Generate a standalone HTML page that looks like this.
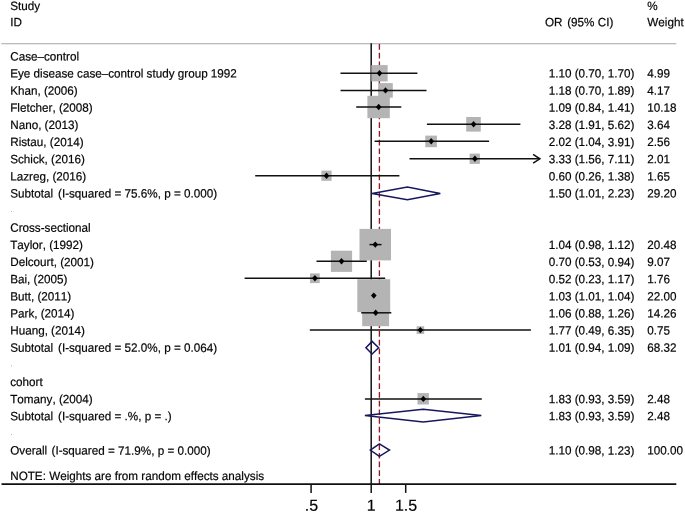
<!DOCTYPE html><html><head><meta charset="utf-8"><title>Forest plot</title><style>html,body{margin:0;padding:0;background:#fff}svg{display:block}text{font-family:"Liberation Sans",sans-serif;fill:#000;stroke:#111;stroke-width:.2px;font-kerning:none}</style></head><body>
<svg width="685" height="512" viewBox="0 0 685 512">
<rect width="685" height="512" fill="#fff"/>
<path d="M1.3 43.65H676.3" stroke="#a6a6a6" stroke-width="1.05" fill="none"/>
<path d="M371.2 43.2V484" stroke="#111" stroke-width="1.5" fill="none"/>
<path d="M379.4 44V484" stroke="#961a2a" stroke-width="1.35" stroke-dasharray="5.7 3" fill="none"/>
<g fill="#b4b4b4"><rect x="371.3" y="65.1" width="16.3" height="16.3"/><rect x="378.2" y="83.1" width="14.6" height="14.6"/><rect x="367.4" y="95.8" width="22.4" height="22.4"/><rect x="466.2" y="117.0" width="14.6" height="14.6"/><rect x="425.3" y="135.6" width="11.6" height="11.6"/><rect x="469.6" y="153.6" width="10.3" height="10.3"/><rect x="321.4" y="170.6" width="10.2" height="10.2"/><rect x="359.5" y="228.9" width="31.5" height="31.5"/><rect x="330.9" y="250.7" width="21.2" height="21.2"/><rect x="310.0" y="273.4" width="9.7" height="9.7"/><rect x="357.3" y="279.2" width="32.9" height="32.9"/><rect x="362.2" y="299.3" width="26.9" height="26.9"/><rect x="416.6" y="326.3" width="7.6" height="7.6"/><rect x="417.5" y="393.1" width="11.4" height="11.4"/></g>
<g stroke="#111" stroke-width="1.5" fill="none"><path d="M340.5 73.2H417.4"/><path d="M340.5 90.4H426.5"/><path d="M356.2 107.0H401.3"/><path d="M426.9 124.2H520.4"/><path d="M374.6 141.3H489.1"/><path d="M409.5 158.8H539.9"/><path d="M533.1 154.4L539.9 158.8L533.1 163.2" fill="none"/><path d="M255.2 175.7H399.4"/><path d="M369.5 244.6H381.5"/><path d="M316.5 261.2H366.8"/><path d="M244.6 278.3H385.2"/><path d="M372.1 295.6H375.1"/><path d="M361.2 312.8H391.3"/><path d="M309.8 330.1H530.9"/><path d="M364.9 398.9H481.8"/></g>
<g fill="#000"><path d="M376.7 73.2l2.8 -3.2l2.8 3.2l-2.8 3.2z"/><path d="M382.7 90.4l2.8 -3.2l2.8 3.2l-2.8 3.2z"/><path d="M375.9 107.0l2.8 -3.2l2.8 3.2l-2.8 3.2z"/><path d="M470.8 124.2l2.8 -3.2l2.8 3.2l-2.8 3.2z"/><path d="M428.4 141.3l2.8 -3.2l2.8 3.2l-2.8 3.2z"/><path d="M472.1 158.8l2.8 -3.2l2.8 3.2l-2.8 3.2z"/><path d="M323.7 175.7l2.8 -3.2l2.8 3.2l-2.8 3.2z"/><path d="M372.5 244.6l2.8 -3.2l2.8 3.2l-2.8 3.2z"/><path d="M338.7 261.2l2.8 -3.2l2.8 3.2l-2.8 3.2z"/><path d="M312.1 278.3l2.8 -3.2l2.8 3.2l-2.8 3.2z"/><path d="M371.0 295.6l2.8 -3.2l2.8 3.2l-2.8 3.2z"/><path d="M372.9 312.8l2.8 -3.2l2.8 3.2l-2.8 3.2z"/><path d="M417.6 330.1l2.8 -3.2l2.8 3.2l-2.8 3.2z"/><path d="M420.5 398.9l2.8 -3.2l2.8 3.2l-2.8 3.2z"/></g>
<g stroke="#17175f" stroke-width="1.5" fill="none" stroke-linejoin="miter"><path d="M372.1 193.4L407.4 187.1L440.3 193.4L407.4 199.7Z"/><path d="M365.9 347.7L372.1 341.4L378.6 347.7L372.1 354.0Z"/><path d="M364.9 415.6L423.2 409.3L481.3 415.6L423.2 421.9Z"/><path d="M370.3 450.1L379.4 443.8L389.5 450.1L379.4 456.4Z"/></g>
<path d="M1.5 484.1H676.3" stroke="#111" stroke-width="1.6" fill="none"/>
<path d="M311.1 484V492.9" stroke="#111" stroke-width="1.5" fill="none"/>
<path d="M371.2 484V492.9" stroke="#111" stroke-width="1.5" fill="none"/>
<path d="M405.7 484V492.9" stroke="#111" stroke-width="1.5" fill="none"/>
<text transform="translate(10.2 10.0) scale(1 1.03) rotate(0.03)" font-size="11.7px" text-anchor="start">Study</text>
<text transform="translate(10.2 26.2) scale(1 1.03) rotate(0.03)" font-size="11.7px" text-anchor="start">ID</text>
<text transform="translate(545.0 26.2) scale(1 1.03) rotate(0.03)" font-size="11.7px" text-anchor="start">OR</text>
<text transform="translate(567.2 26.2) scale(1 1.03) rotate(0.03)" font-size="11.7px" text-anchor="start">(95% CI)</text>
<text transform="translate(647.3 10.0) scale(1 1.03) rotate(0.03)" font-size="11.7px" text-anchor="start">%</text>
<text transform="translate(647.3 26.2) scale(1 1.03) rotate(0.03)" font-size="11.7px" text-anchor="start">Weight</text>
<text transform="translate(10.2 60.4) scale(1 1.03) rotate(0.03)" font-size="11.7px" text-anchor="start">Case–control</text>
<text transform="translate(10.2 77.5) scale(1 1.03) rotate(0.03)" font-size="11.7px" text-anchor="start">Eye disease case–control study group 1992</text>
<text transform="translate(548.7 77.5) scale(1 1.03) rotate(0.03)" font-size="11.7px" text-anchor="start">1.10 (0.70, 1.70)</text>
<text transform="translate(647.3 77.5) scale(1 1.03) rotate(0.03)" font-size="11.7px" text-anchor="start">4.99</text>
<text transform="translate(10.2 94.7) scale(1 1.03) rotate(0.03)" font-size="11.7px" text-anchor="start">Khan, (2006)</text>
<text transform="translate(548.7 94.7) scale(1 1.03) rotate(0.03)" font-size="11.7px" text-anchor="start">1.18 (0.70, 1.89)</text>
<text transform="translate(647.3 94.7) scale(1 1.03) rotate(0.03)" font-size="11.7px" text-anchor="start">4.17</text>
<text transform="translate(10.2 111.8) scale(1 1.03) rotate(0.03)" font-size="11.7px" text-anchor="start">Fletcher, (2008)</text>
<text transform="translate(548.7 111.8) scale(1 1.03) rotate(0.03)" font-size="11.7px" text-anchor="start">1.09 (0.84, 1.41)</text>
<text transform="translate(647.3 111.8) scale(1 1.03) rotate(0.03)" font-size="11.7px" text-anchor="start">10.18</text>
<text transform="translate(10.2 129.0) scale(1 1.03) rotate(0.03)" font-size="11.7px" text-anchor="start">Nano, (2013)</text>
<text transform="translate(548.7 129.0) scale(1 1.03) rotate(0.03)" font-size="11.7px" text-anchor="start">3.28 (1.91, 5.62)</text>
<text transform="translate(647.3 129.0) scale(1 1.03) rotate(0.03)" font-size="11.7px" text-anchor="start">3.64</text>
<text transform="translate(10.2 146.1) scale(1 1.03) rotate(0.03)" font-size="11.7px" text-anchor="start">Ristau, (2014)</text>
<text transform="translate(548.7 146.1) scale(1 1.03) rotate(0.03)" font-size="11.7px" text-anchor="start">2.02 (1.04, 3.91)</text>
<text transform="translate(647.3 146.1) scale(1 1.03) rotate(0.03)" font-size="11.7px" text-anchor="start">2.56</text>
<text transform="translate(10.2 163.2) scale(1 1.03) rotate(0.03)" font-size="11.7px" text-anchor="start">Schick, (2016)</text>
<text transform="translate(548.7 163.2) scale(1 1.03) rotate(0.03)" font-size="11.7px" text-anchor="start">3.33 (1.56, 7.11)</text>
<text transform="translate(647.3 163.2) scale(1 1.03) rotate(0.03)" font-size="11.7px" text-anchor="start">2.01</text>
<text transform="translate(10.2 180.4) scale(1 1.03) rotate(0.03)" font-size="11.7px" text-anchor="start">Lazreg, (2016)</text>
<text transform="translate(548.7 180.4) scale(1 1.03) rotate(0.03)" font-size="11.7px" text-anchor="start">0.60 (0.26, 1.38)</text>
<text transform="translate(647.3 180.4) scale(1 1.03) rotate(0.03)" font-size="11.7px" text-anchor="start">1.65</text>
<text transform="translate(10.2 197.5) scale(1 1.03) rotate(0.03)" font-size="11.7px" text-anchor="start">Subtotal</text>
<text transform="translate(58.0 197.5) scale(1 1.03) rotate(0.03)" font-size="11.7px" text-anchor="start">(I-squared = 75.6%, p = 0.000)</text>
<text transform="translate(548.7 197.5) scale(1 1.03) rotate(0.03)" font-size="11.7px" text-anchor="start">1.50 (1.01, 2.23)</text>
<text transform="translate(647.3 197.5) scale(1 1.03) rotate(0.03)" font-size="11.7px" text-anchor="start">29.20</text>
<text transform="translate(10.6 212.1) scale(1 1.03) rotate(0.03)" font-size="7px" text-anchor="start" style="fill:#707070;stroke:none">.</text>
<text transform="translate(10.2 231.8) scale(1 1.03) rotate(0.03)" font-size="11.7px" text-anchor="start">Cross-sectional</text>
<text transform="translate(10.2 248.9) scale(1 1.03) rotate(0.03)" font-size="11.7px" text-anchor="start">Taylor, (1992)</text>
<text transform="translate(548.7 248.9) scale(1 1.03) rotate(0.03)" font-size="11.7px" text-anchor="start">1.04 (0.98, 1.12)</text>
<text transform="translate(647.3 248.9) scale(1 1.03) rotate(0.03)" font-size="11.7px" text-anchor="start">20.48</text>
<text transform="translate(10.2 266.1) scale(1 1.03) rotate(0.03)" font-size="11.7px" text-anchor="start">Delcourt, (2001)</text>
<text transform="translate(548.7 266.1) scale(1 1.03) rotate(0.03)" font-size="11.7px" text-anchor="start">0.70 (0.53, 0.94)</text>
<text transform="translate(647.3 266.1) scale(1 1.03) rotate(0.03)" font-size="11.7px" text-anchor="start">9.07</text>
<text transform="translate(10.2 283.2) scale(1 1.03) rotate(0.03)" font-size="11.7px" text-anchor="start">Bai, (2005)</text>
<text transform="translate(548.7 283.2) scale(1 1.03) rotate(0.03)" font-size="11.7px" text-anchor="start">0.52 (0.23, 1.17)</text>
<text transform="translate(647.3 283.2) scale(1 1.03) rotate(0.03)" font-size="11.7px" text-anchor="start">1.76</text>
<text transform="translate(10.2 300.4) scale(1 1.03) rotate(0.03)" font-size="11.7px" text-anchor="start">Butt, (2011)</text>
<text transform="translate(548.7 300.4) scale(1 1.03) rotate(0.03)" font-size="11.7px" text-anchor="start">1.03 (1.01, 1.04)</text>
<text transform="translate(647.3 300.4) scale(1 1.03) rotate(0.03)" font-size="11.7px" text-anchor="start">22.00</text>
<text transform="translate(10.2 317.5) scale(1 1.03) rotate(0.03)" font-size="11.7px" text-anchor="start">Park, (2014)</text>
<text transform="translate(548.7 317.5) scale(1 1.03) rotate(0.03)" font-size="11.7px" text-anchor="start">1.06 (0.88, 1.26)</text>
<text transform="translate(647.3 317.5) scale(1 1.03) rotate(0.03)" font-size="11.7px" text-anchor="start">14.26</text>
<text transform="translate(10.2 334.6) scale(1 1.03) rotate(0.03)" font-size="11.7px" text-anchor="start">Huang, (2014)</text>
<text transform="translate(548.7 334.6) scale(1 1.03) rotate(0.03)" font-size="11.7px" text-anchor="start">1.77 (0.49, 6.35)</text>
<text transform="translate(647.3 334.6) scale(1 1.03) rotate(0.03)" font-size="11.7px" text-anchor="start">0.75</text>
<text transform="translate(10.2 351.8) scale(1 1.03) rotate(0.03)" font-size="11.7px" text-anchor="start">Subtotal</text>
<text transform="translate(58.0 351.8) scale(1 1.03) rotate(0.03)" font-size="11.7px" text-anchor="start">(I-squared = 52.0%, p = 0.064)</text>
<text transform="translate(548.7 351.8) scale(1 1.03) rotate(0.03)" font-size="11.7px" text-anchor="start">1.01 (0.94, 1.09)</text>
<text transform="translate(647.3 351.8) scale(1 1.03) rotate(0.03)" font-size="11.7px" text-anchor="start">68.32</text>
<text transform="translate(10.6 366.3) scale(1 1.03) rotate(0.03)" font-size="7px" text-anchor="start" style="fill:#707070;stroke:none">.</text>
<text transform="translate(10.2 386.1) scale(1 1.03) rotate(0.03)" font-size="11.7px" text-anchor="start">cohort</text>
<text transform="translate(10.2 403.2) scale(1 1.03) rotate(0.03)" font-size="11.7px" text-anchor="start">Tomany, (2004)</text>
<text transform="translate(548.7 403.2) scale(1 1.03) rotate(0.03)" font-size="11.7px" text-anchor="start">1.83 (0.93, 3.59)</text>
<text transform="translate(647.3 403.2) scale(1 1.03) rotate(0.03)" font-size="11.7px" text-anchor="start">2.48</text>
<text transform="translate(10.2 420.3) scale(1 1.03) rotate(0.03)" font-size="11.7px" text-anchor="start">Subtotal</text>
<text transform="translate(58.0 420.3) scale(1 1.03) rotate(0.03)" font-size="11.7px" text-anchor="start">(I-squared = .%, p = .)</text>
<text transform="translate(548.7 420.3) scale(1 1.03) rotate(0.03)" font-size="11.7px" text-anchor="start">1.83 (0.93, 3.59)</text>
<text transform="translate(647.3 420.3) scale(1 1.03) rotate(0.03)" font-size="11.7px" text-anchor="start">2.48</text>
<text transform="translate(10.6 434.9) scale(1 1.03) rotate(0.03)" font-size="7px" text-anchor="start" style="fill:#707070;stroke:none">.</text>
<text transform="translate(10.2 454.6) scale(1 1.03) rotate(0.03)" font-size="11.7px" text-anchor="start">Overall</text>
<text transform="translate(51.5 454.6) scale(1 1.03) rotate(0.03)" font-size="11.7px" text-anchor="start">(I-squared = 71.9%, p = 0.000)</text>
<text transform="translate(548.7 454.6) scale(1 1.03) rotate(0.03)" font-size="11.7px" text-anchor="start">1.10 (0.98, 1.23)</text>
<text transform="translate(647.3 454.6) scale(1 1.03) rotate(0.03)" font-size="11.7px" text-anchor="start">100.00</text>
<text transform="translate(10.2 479.9) scale(1 1.03) rotate(0.03)" font-size="11.7px" text-anchor="start">NOTE: Weights are from random effects analysis</text>
<text transform="translate(311.4 510.8) scale(1 1) rotate(0.03)" font-size="16px" text-anchor="middle">.5</text>
<text transform="translate(371.2 510.8) scale(1 1) rotate(0.03)" font-size="16px" text-anchor="middle">1</text>
<text transform="translate(406.0 510.8) scale(1 1) rotate(0.03)" font-size="16px" text-anchor="middle">1.5</text>
</svg></body></html>
